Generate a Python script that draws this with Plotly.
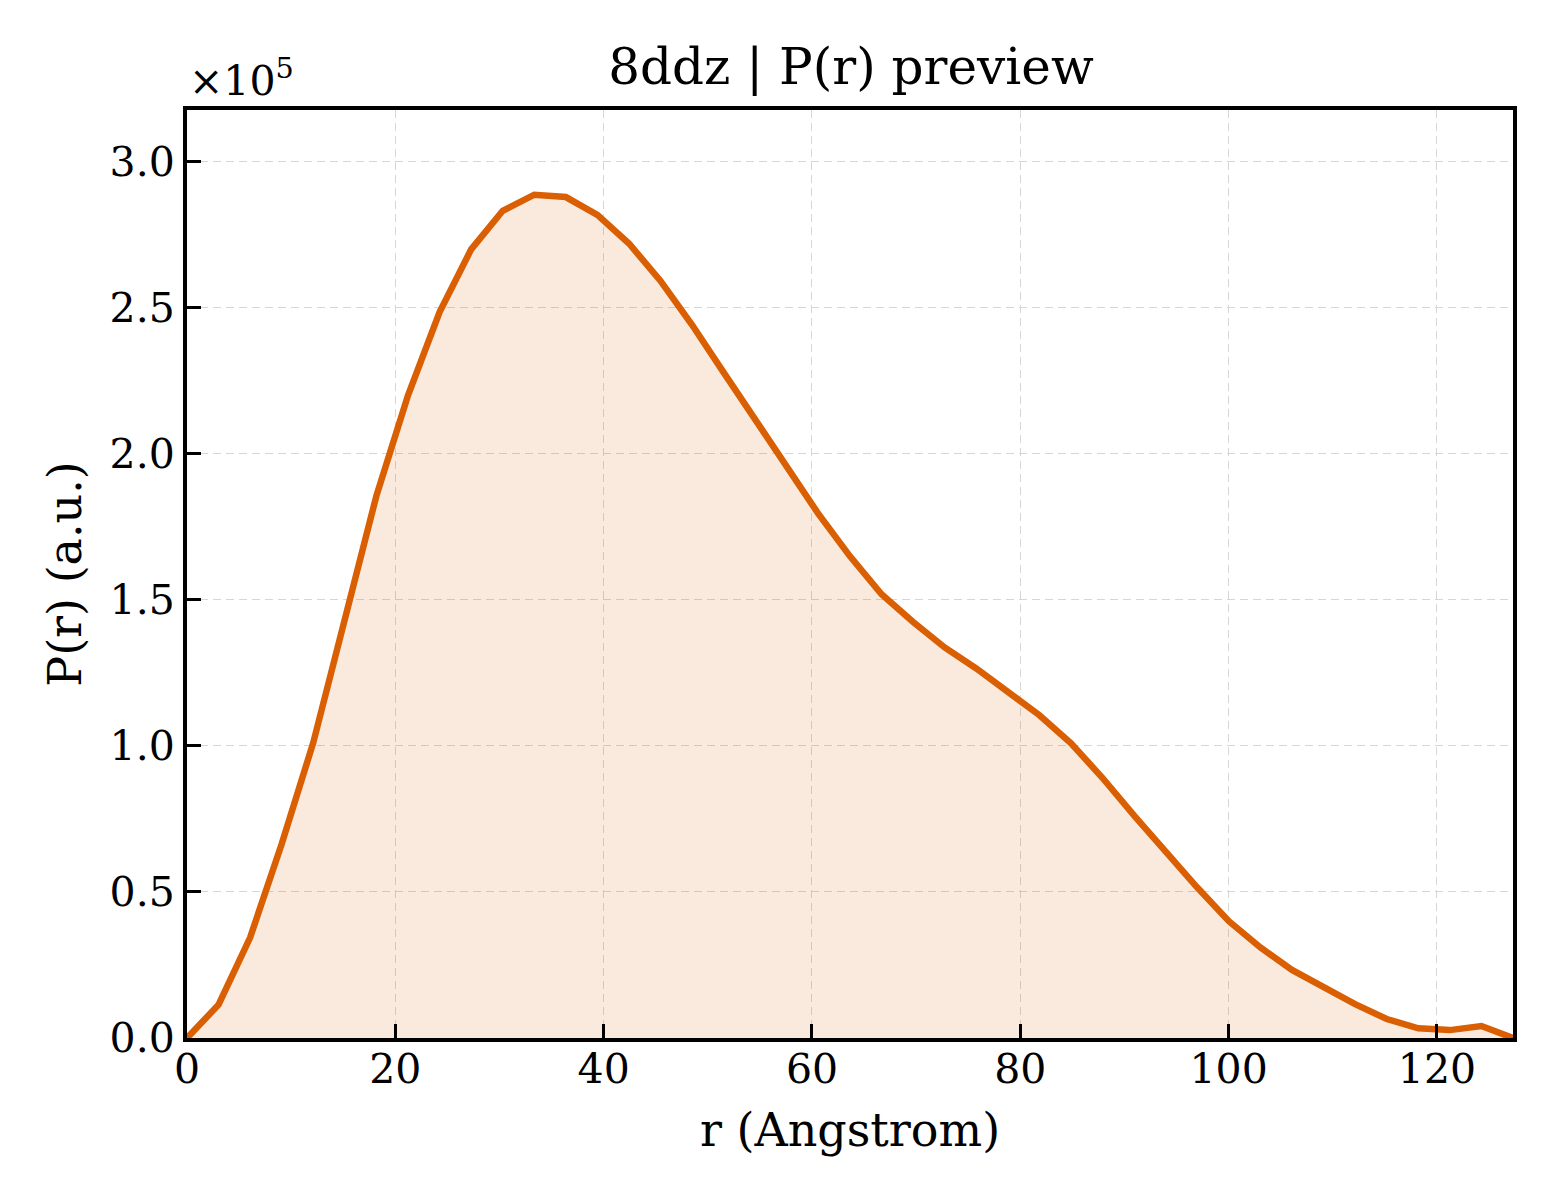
import plotly.graph_objects as go

# P(r) preview for 8ddz
r_angstrom = [0.0, 3.03, 6.06, 9.09, 12.12, 15.16, 18.19, 21.22, 24.25, 27.28,
              30.31, 33.34, 36.37, 39.40, 42.43, 45.46, 48.50, 51.53, 54.56, 57.59,
              60.62, 63.65, 66.68, 69.71, 72.74, 75.77, 78.80, 81.84, 84.87, 87.90,
              90.93, 93.96, 96.99, 100.02, 103.05, 106.08, 109.11, 112.14, 115.18,
              118.21, 121.24, 124.27, 127.30]
p_r = [0, 11400, 34400, 66400, 101100, 144200, 185700, 220000, 248500, 270000,
       283200, 288700, 287900, 281800, 272000, 259200, 244100, 227800, 211700,
       195400, 179400, 164900, 151900, 142400, 133700, 126500, 118700, 110500,
       100900, 89000, 76100, 63600, 51500, 40000, 31000, 23300, 17300, 11600,
       6500, 3300, 2700, 4100, 0]

x_ticks = [0, 20, 40, 60, 80, 100, 120]
y_ticks = [0, 50000, 100000, 150000, 200000, 250000, 300000]
y_tick_labels = ["0.0", "0.5", "1.0", "1.5", "2.0", "2.5", "3.0"]

LINE = "#d95f02"
FONT = "DejaVu Serif"

fig = go.Figure()
fig.add_trace(go.Scatter(
    x=r_angstrom, y=p_r, mode="lines",
    line=dict(color=LINE, width=6.5),
    fill="tozeroy", fillcolor="rgba(217,95,2,0.13)",
    showlegend=False, hoverinfo="skip",
))

axis_common = dict(
    showline=True, linecolor="black", linewidth=4, mirror=True,
    ticks="inside", ticklen=14, tickwidth=3, tickcolor="black",
    showgrid=True, gridcolor="#d6d6d6", gridwidth=1.4, griddash="8px,5px",
    zeroline=False, tickfont=dict(family=FONT, size=41, color="black"),
)

fig.update_xaxes(
    range=[0, 127.3], tickvals=x_ticks, ticklabelstandoff=-8,
    title=dict(text="r (Angstrom)", font=dict(family=FONT, size=46, color="black"),
               standoff=23),
    **axis_common,
)
fig.update_yaxes(
    range=[0, 317700], tickvals=y_ticks, ticktext=y_tick_labels, ticklabelstandoff=0,
    title=dict(text="P(r) (a.u.)", font=dict(family=FONT, size=46, color="black"),
               standoff=14),
    **axis_common,
)

# offset label drawn by matplotlib-style scientific notation
fig.add_annotation(
    xref="paper", yref="paper", x=0, y=1.0, xanchor="left", yanchor="bottom",
    yshift=3, showarrow=False,
    text="×10<sup>5</sup>", font=dict(family=FONT, size=41, color="black"),
)

# page body adds ~8px, so left/top margins are trimmed by that much
fig.update_layout(
    width=1560, height=1200, autosize=False,
    margin=dict(l=179, r=55, t=102, b=170),
    paper_bgcolor="white", plot_bgcolor="white",
    title=dict(text="8ddz | P(r) preview", x=843 / 1560, xanchor="center",
               y=1 - 58 / 1200, yanchor="middle",
               font=dict(family=FONT, size=50, color="black")),
)

fig.write_html("out.html")
